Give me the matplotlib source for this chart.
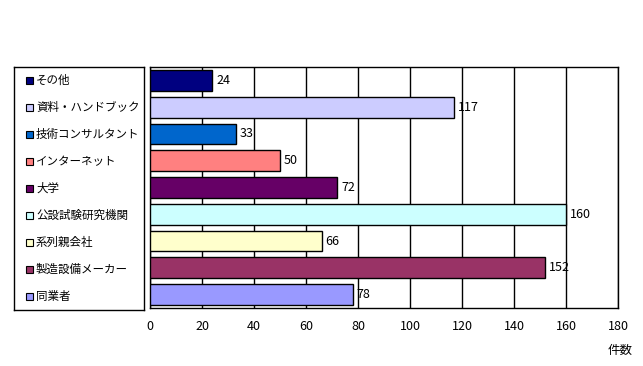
import matplotlib
matplotlib.use("Agg")
import matplotlib.pyplot as plt
from matplotlib.patches import Rectangle

plt.rcParams['font.family'] = ['Noto Sans CJK JP', 'DejaVu Sans']

# データ (上から順)
categories = ['その他', '資料・ハンドブック', '技術コンサルタント', 'インターネット', '大学',
              '公設試験研究機関', '系列親会社', '製造設備メーカー', '同業者']
counts = [24, 117, 33, 50, 72, 160, 66, 152, 78]
colors = ['#000080', '#CCCCFF', '#0066CC', '#FF8080', '#660066',
          '#CCFFFF', '#FFFFCC', '#993366', '#9999FF']
xticks = [0, 20, 40, 60, 80, 100, 120, 140, 160, 180]

W, H = 643, 366
fig = plt.figure(figsize=(W / 100, H / 100), dpi=100)

# グラフ本体
ax = fig.add_axes([150 / W, 1 - 308 / H, 468 / W, 241 / H])
ypos = list(range(len(categories)))
ax.barh(ypos, counts, height=0.78, color=colors, edgecolor='black', linewidth=1, zorder=3)
for y, v in zip(ypos, counts):
    ax.text(v + 1.5, y, str(v), va='center', ha='left', fontsize=9, zorder=4)
ax.set_xlim(0, 180)
ax.set_ylim(len(categories) - 0.5, -0.5)
ax.set_xticks(xticks)
ax.set_xticklabels([str(t) for t in xticks], fontsize=9)
ax.set_yticks([])
ax.tick_params(axis='x', length=0, pad=9)
ax.grid(axis='x', color='black', linewidth=1, zorder=0)
for s in ax.spines.values():
    s.set_color('black')
    s.set_linewidth(1)

fig.text(620 / W, 1 - 350 / H, '件数', ha='center', va='center', fontsize=9)

# 凡例 (手書き)
lg = fig.add_axes([14 / W, 1 - 310 / H, 130 / W, 243 / H])
lg.set_xlim(0, 130)
lg.set_ylim(len(categories) - 0.5, -0.5)
lg.set_xticks([])
lg.set_yticks([])
for s in lg.spines.values():
    s.set_color('black')
    s.set_linewidth(1)
for y, (name, c) in enumerate(zip(categories, colors)):
    lg.add_patch(Rectangle((12, y - 0.13), 7, 0.26, facecolor=c, edgecolor='black', linewidth=0.8))
    lg.text(22, y, name, va='center', ha='left', fontsize=8.3)

fig.savefig('out.png', dpi=100)
